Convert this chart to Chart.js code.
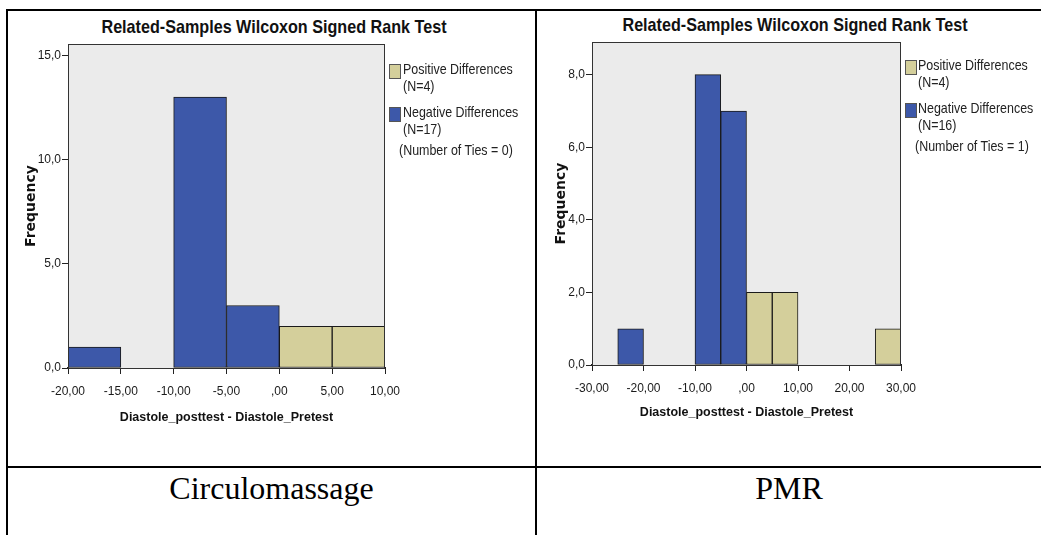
<!DOCTYPE html>
<html>
<head>
<meta charset="utf-8">
<script src="https://cdn.jsdelivr.net/npm/chart.js@4.4.0/dist/chart.umd.min.js"></script>
<style>
  body { margin: 0; width: 1041px; height: 535px; background: #fff; overflow: hidden; position: relative; }
  .line { position: absolute; background: #000; }
  .cv { position: absolute; }
  .title { position: absolute; font: bold 19px 'Liberation Sans', Arial, sans-serif; color: #111; white-space: nowrap; line-height: 22px;
           transform: translateX(-50%) scaleX(0.85); }
  .legend { position: absolute; font: 15px 'Liberation Sans', Arial, sans-serif; color: #222; line-height: 17px; white-space: nowrap;
            transform: scaleX(0.83); transform-origin: left center; }
  .sw { position: absolute; width: 10px; height: 13px; border: 1px solid #555; }
  .caption { position: absolute; top: 470px; font: 32px 'Liberation Serif', 'DejaVu Serif', serif; color: #000; text-align: center; }
</style>
</head>
<body>
<div class="line" style="left:6px; top:9px; width:1035px; height:2px"></div>
<div class="line" style="left:6px; top:9px; width:2px; height:526px"></div>
<div class="line" style="left:535px; top:9px; width:2px; height:526px"></div>
<div class="line" style="left:6px; top:466px; width:1035px; height:2px"></div>

<div class="title" id="title-left" style="left:274px; top:16px"></div>
<div class="title" id="title-right" style="left:795px; top:14px"></div>

<canvas class="cv" id="chart-left" style="left:8px; top:11px"></canvas>
<canvas class="cv" id="chart-right" style="left:537px; top:11px"></canvas>

<div id="legend-left"></div>
<div id="legend-right"></div>

<div class="caption" id="cap-left" style="left:8px; width:527px"></div>
<div class="caption" id="cap-right" style="left:537px; width:504px"></div>

<script>
const TITLE = 'Related-Samples Wilcoxon Signed Rank Test';
const X_TITLE = 'Diastole_posttest - Diastole_Pretest';
const Y_TITLE = 'Frequency';
const BIN_WIDTH = 5;

// Circulomassage: bin start values and counts
const circNegStarts = [-20, -10, -5];
const circNegCounts = [1, 13, 3];
const circPosStarts = [0, 5];
const circPosCounts = [2, 2];
const circLegend = ['Positive Differences', '(N=4)', 'Negative Differences', '(N=17)', '(Number of Ties = 0)'];

// PMR
const pmrNegStarts = [-25, -10, -5];
const pmrNegCounts = [1, 8, 7];
const pmrPosStarts = [0, 5, 25];
const pmrPosCounts = [2, 2, 1];
const pmrLegend = ['Positive Differences', '(N=4)', 'Negative Differences', '(N=16)', '(Number of Ties = 1)'];

const captions = ['Circulomassage', 'PMR'];

const NEG_COLOR = '#3d58a9';
const POS_COLOR = '#d4cf9b';
const SANS = "'Liberation Sans', Arial, sans-serif";

function toPoints(starts, counts) {
  return starts.map((s, i) => ({ x: s + BIN_WIDTH / 2, y: counts[i] }));
}

function fmtX(v) {
  if (v === 0) return ',00';
  const s = Math.abs(v).toFixed(2).replace('.', ',');
  return (v < 0 ? '-' : '') + s;
}

const plotFrame = {
  id: 'plotFrame',
  beforeDatasetsDraw(chart) {
    const { ctx, chartArea: a } = chart;
    ctx.save();
    ctx.fillStyle = '#ebebeb';
    ctx.fillRect(a.left, a.top, a.right - a.left, a.bottom - a.top);
    ctx.restore();
  },
  afterDraw(chart) {
    const { ctx, chartArea: a } = chart;
    ctx.save();
    ctx.strokeStyle = '#333';
    ctx.lineWidth = 1;
    ctx.strokeRect(a.left + 0.5, a.top + 0.5, a.right - a.left - 1, a.bottom - a.top);
    ctx.restore();
  },
};

function makeChart(id, w, h, cfg) {
  const cv = document.getElementById(id);
  cv.width = w; cv.height = h;
  cv.style.width = w + 'px'; cv.style.height = h + 'px';
  const barStyle = {
    borderColor: '#1a1a1a',
    borderWidth: 1,
    borderSkipped: false,
    grouped: false,
    barPercentage: 1,
    categoryPercentage: 1,
  };
  return new Chart(cv.getContext('2d'), {
    type: 'bar',
    data: {
      datasets: [
        { label: 'Negative Differences', data: toPoints(cfg.negStarts, cfg.negCounts), backgroundColor: NEG_COLOR, ...barStyle },
        { label: 'Positive Differences', data: toPoints(cfg.posStarts, cfg.posCounts), backgroundColor: POS_COLOR, ...barStyle },
      ],
    },
    options: {
      responsive: false,
      animation: false,
      layout: { padding: cfg.padding },
      plugins: { legend: { display: false }, tooltip: { enabled: false } },
      scales: {
        x: {
          type: 'linear',
          offset: false,
          min: cfg.xMin,
          max: cfg.xMax,
          afterFit: (s) => { s.height = 70; },
          grid: { offset: false, drawOnChartArea: false, drawTicks: true, tickLength: 6, color: '#222' },
          border: { display: true, color: '#222', width: 2 },
          ticks: { stepSize: cfg.xStep, includeBounds: false, padding: 10, color: '#1a1a1a', maxRotation: 0,
                   font: { family: SANS, size: 12 }, callback: (v) => fmtX(v) },
          title: { display: true, text: X_TITLE, color: '#111', padding: { top: 0, bottom: cfg.xTitlePad },
                   font: { family: SANS, size: 12.5, weight: 'bold' } },
        },
        y: {
          min: 0,
          max: cfg.yMax,
          afterFit: (s) => { s.width = cfg.yWidth; },
          grid: { drawOnChartArea: false, drawTicks: true, tickLength: 6, color: '#222' },
          border: { display: true, color: '#222', width: 1 },
          ticks: { stepSize: cfg.yStep, includeBounds: false, padding: 1, color: '#1a1a1a',
                   font: { family: SANS, size: 12 }, callback: (v) => v.toFixed(1).replace('.', ',') },
          title: { display: true, text: Y_TITLE, color: '#111', padding: { top: cfg.yTitlePad, bottom: 0 },
                   font: { family: "'DejaVu Sans', sans-serif", size: 14, weight: 'bold' } },
        },
      },
    },
    plugins: [plotFrame],
  });
}

makeChart('chart-left', 527, 455, {
  negStarts: circNegStarts, negCounts: circNegCounts,
  posStarts: circPosStarts, posCounts: circPosCounts,
  xMin: -20, xMax: 10, xStep: 5, yMax: 15.55, yStep: 5,
  yWidth: 60, yTitlePad: 15.4, xTitlePad: 13,
  padding: { left: 0, top: 33, right: 150, bottom: 28 },
});

makeChart('chart-right', 504, 455, {
  negStarts: pmrNegStarts, negCounts: pmrNegCounts,
  posStarts: pmrPosStarts, posCounts: pmrPosCounts,
  xMin: -30, xMax: 30, xStep: 10, yMax: 8.9, yStep: 2,
  yWidth: 55, yTitlePad: 15.6, xTitlePad: 14.5,
  padding: { left: 0, top: 31, right: 140, bottom: 31 },
});

// legend rows: line centres relative to the first line
function buildLegend(elId, lines, swX, textX, tiesX, y) {
  const el = document.getElementById(elId);
  const rows = [
    { sw: POS_COLOR, dy: 0, text: lines[0], x: textX },
    { dy: 17, text: lines[1], x: textX },
    { sw: NEG_COLOR, dy: 43, text: lines[2], x: textX },
    { dy: 60, text: lines[3], x: textX },
    { dy: 81, text: lines[4], x: tiesX },
  ];
  rows.forEach(r => {
    if (r.sw) {
      const s = document.createElement('div');
      s.className = 'sw';
      s.style.background = r.sw;
      s.style.left = swX + 'px';
      s.style.top = (y + r.dy - 5) + 'px';
      el.appendChild(s);
    }
    const t = document.createElement('div');
    t.className = 'legend';
    t.textContent = r.text;
    t.style.left = r.x + 'px';
    t.style.top = (y + r.dy - 9) + 'px';
    el.appendChild(t);
  });
}

buildLegend('legend-left', circLegend, 389, 403, 399, 69);
buildLegend('legend-right', pmrLegend, 905, 918, 915, 65);

document.getElementById('title-left').textContent = TITLE;
document.getElementById('title-right').textContent = TITLE;
document.getElementById('cap-left').textContent = captions[0];
document.getElementById('cap-right').textContent = captions[1];
</script>
</body>
</html>
